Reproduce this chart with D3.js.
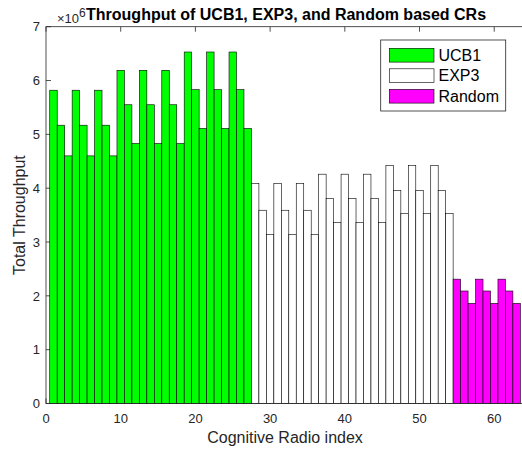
<!DOCTYPE html>
<html>
<head>
<meta charset="utf-8">
<script src="https://cdn.jsdelivr.net/npm/d3@7"></script>
<style>
  html, body { margin: 0; padding: 0; background: #fff; }
  svg { display: block; }
  text { font-family: "Liberation Sans", Arial, Helvetica, sans-serif; }
</style>
</head>
<body>
<svg id="chart" width="522" height="451"></svg>
<script>
// ---- data (values in raw units) ----
const seriesNames = ["UCB1", "EXP3", "Random"];
const seriesColors = ["#00ff00", "#ffffff", "#ff00ff"];
const ucb1 = [5.82e6, 5.17e6, 4.60e6, 5.82e6, 5.17e6, 4.60e6, 5.82e6, 5.17e6, 4.60e6,
              6.19e6, 5.55e6, 4.83e6, 6.19e6, 5.55e6, 4.83e6, 6.19e6, 5.55e6, 4.83e6,
              6.53e6, 5.83e6, 5.11e6, 6.53e6, 5.83e6, 5.11e6, 6.53e6, 5.83e6, 5.11e6];
const exp3 = [4.09e6, 3.59e6, 3.14e6, 4.09e6, 3.59e6, 3.14e6, 4.09e6, 3.59e6, 3.14e6,
              4.26e6, 3.81e6, 3.36e6, 4.26e6, 3.81e6, 3.36e6, 4.26e6, 3.81e6, 3.36e6,
              4.42e6, 3.96e6, 3.53e6, 4.42e6, 3.96e6, 3.53e6, 4.42e6, 3.96e6, 3.53e6];
const random = [2.31e6, 2.09e6, 1.86e6, 2.31e6, 2.09e6, 1.86e6, 2.31e6, 2.09e6, 1.86e6];
const xTicks = [0, 10, 20, 30, 40, 50, 60];
const yTicks = [0, 1, 2, 3, 4, 5, 6, 7];
const titleText = "Throughput of UCB1, EXP3, and Random based CRs";
const xLabelText = "Cognitive Radio index";
const yLabelText = "Total Throughput";

(function () {
// build bar table: index 1..N consecutively
const allSeries = [ucb1, exp3, random];
const bars = [];
let idx = 1;
allSeries.forEach((arr, s) => {
  arr.forEach(v => { bars.push({ i: idx++, v: v, s: s }); });
});

// ---- layout ----
const svg = d3.select("#chart");
const pL = 46, pR = 524.1, pT = 26.7, pB = 403.5;
const axisColor = "#262626";

const x = d3.scaleLinear().domain([0, 64]).range([pL, pR]);
const y = d3.scaleLinear().domain([0, 7e6]).range([pB, pT]);

// tick marks (under bars)
const tickLen = 5;
const g = svg.append("g");
g.selectAll(".xt").data(xTicks).enter().append("line")
  .attr("x1", d => x(d)).attr("x2", d => x(d))
  .attr("y1", pB).attr("y2", pB - tickLen)
  .attr("stroke", axisColor).attr("stroke-width", 0.8);
g.selectAll(".xtt").data(xTicks).enter().append("line")
  .attr("x1", d => x(d)).attr("x2", d => x(d))
  .attr("y1", pT).attr("y2", pT + tickLen)
  .attr("stroke", axisColor).attr("stroke-width", 0.8);
g.selectAll(".yt").data(yTicks).enter().append("line")
  .attr("x1", pL).attr("x2", pL + tickLen)
  .attr("y1", d => y(d * 1e6)).attr("y2", d => y(d * 1e6))
  .attr("stroke", axisColor).attr("stroke-width", 0.8);

// bars
svg.append("g").selectAll("rect").data(bars).enter().append("rect")
  .attr("x", d => x(d.i - 0.5))
  .attr("width", d => x(d.i + 0.5) - x(d.i - 0.5))
  .attr("y", d => y(d.v))
  .attr("height", d => y(0) - y(d.v))
  .attr("fill", d => seriesColors[d.s])
  .attr("stroke", "#000")
  .attr("stroke-width", 0.6);

// axis box lines
svg.append("rect")
  .attr("x", pL).attr("y", pT)
  .attr("width", pR - pL).attr("height", pB - pT)
  .attr("fill", "none").attr("stroke", axisColor).attr("stroke-width", 0.8);

// tick labels
svg.append("g").selectAll("text").data(xTicks).enter().append("text")
  .attr("x", d => x(d)).attr("y", 422.5)
  .attr("text-anchor", "middle")
  .attr("font-size", 13).attr("fill", axisColor)
  .text(d => d);
svg.append("g").selectAll("text").data(yTicks).enter().append("text")
  .attr("x", pL - 6).attr("y", d => y(d * 1e6) + 4.7)
  .attr("text-anchor", "end")
  .attr("font-size", 13).attr("fill", axisColor)
  .text(d => d);

// exponent label
const ex = svg.append("text").attr("x", 57).attr("y", 23)
  .attr("font-size", 13).attr("fill", axisColor);
ex.append("tspan").text("\u00d710");
ex.append("tspan").attr("dy", -6).attr("font-size", 12).text("6");

// title
svg.append("text")
  .attr("x", (pL + pR) / 2 + 1).attr("y", 20)
  .attr("text-anchor", "middle")
  .attr("font-size", 16).attr("font-weight", "bold").attr("fill", "#000")
  .text(titleText);

// axis labels
svg.append("text")
  .attr("x", (pL + pR) / 2).attr("y", 443)
  .attr("text-anchor", "middle")
  .attr("font-size", 16).attr("fill", axisColor)
  .text(xLabelText);
svg.append("text")
  .attr("transform", `translate(24.5, ${(pT + pB) / 2}) rotate(-90)`)
  .attr("text-anchor", "middle")
  .attr("font-size", 16).attr("fill", axisColor)
  .text(yLabelText);

// legend
const lg = svg.append("g");
lg.append("rect")
  .attr("x", 380.7).attr("y", 40).attr("width", 125).attr("height", 71)
  .attr("fill", "#fff").attr("stroke", axisColor).attr("stroke-width", 0.8);
seriesNames.forEach((name, k) => {
  const yy = 48.3 + k * 20.5;
  lg.append("rect")
    .attr("x", 389.3).attr("y", yy).attr("width", 44.7).attr("height", 13.8)
    .attr("fill", seriesColors[k]).attr("stroke", "#000").attr("stroke-width", 0.6);
  lg.append("text")
    .attr("x", 438.5).attr("y", yy + 12.6)
    .attr("font-size", 16).attr("fill", "#000")
    .text(name);
});
})();
</script>
</body>
</html>
